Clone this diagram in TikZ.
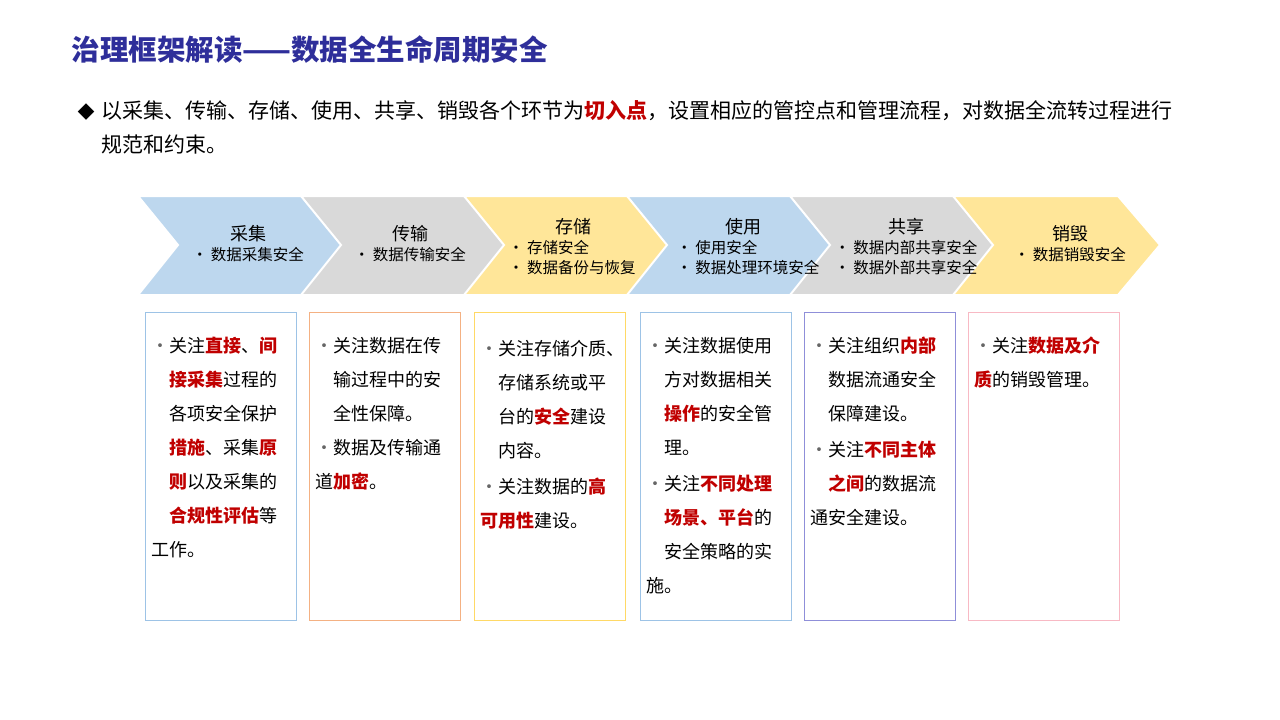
\documentclass[tikz,border=0pt]{standalone}
\usepackage{fontspec}
\setmainfont{Noto Sans CJK SC}
\usetikzlibrary{positioning}
\definecolor{ttlblue}{HTML}{2E2E9A}
\definecolor{keyred}{HTML}{C00000}
\definecolor{chblue}{HTML}{BDD7EE}
\definecolor{chgray}{HTML}{D9D9D9}
\definecolor{chyel}{HTML}{FFE699}
\definecolor{bxblue}{HTML}{9DC3E6}
\definecolor{bxorange}{HTML}{F4B183}
\definecolor{bxgold}{HTML}{FFD966}
\definecolor{bxpurple}{HTML}{8F8FD9}
\definecolor{bxpink}{HTML}{F8B9C4}
\newcommand\kw[1]{\textcolor{keyred}{\bfseries #1}}
\newcommand\bul{\par\leftskip=1em\noindent\llap{\makebox[1em][l]{\textcolor{gray!80!black}{•}}}}
\tikzset{
  chtitle/.style={font=\fontsize{18}{20}\selectfont, anchor=center},
  chlist/.style={font=\fontsize{15.5}{20}\selectfont, align=left, anchor=north},
  infobox/.style={draw, line width=1.2pt, minimum width=151pt, minimum height=308pt, anchor=north west},
  infotext/.style={anchor=north west, text width=145pt, align=left,
    font=\fontsize{18}{34}\selectfont}
}
\begin{document}
\begin{tikzpicture}[x=1pt,y=-1pt]
\useasboundingbox (0,0) rectangle (1280,720);
% title
\node[anchor=west, font=\fontsize{28.5}{32}\selectfont\bfseries, text=ttlblue] (title) at (68,50) {治理框架解读——数据全生命周期安全};
\node[anchor=west, font=\fontsize{17}{20}\selectfont] (dia) at (74,112) {◆};
\node[anchor=north west, text width=1150pt, align=left, font=\fontsize{21}{34}\selectfont] (intro) at (98,97)
  {以采集、传输、存储、使用、共享、销毁各个环节为\kw{切入点}，设置相应的管控点和管理流程，对数据全流转过程进行\\规范和约束。};
% chevrons
\foreach \i/\c in {0/chblue,1/chgray,2/chyel,3/chblue,4/chgray,5/chyel}{
  \pgfmathsetmacro\xa{138+163*\i}
  \fill[\c, draw=white, line width=2pt] (\xa,196) -- (\xa+165,196) -- (\xa+207,245) -- (\xa+165,295)
    -- (\xa,295) -- (\xa+40,245) -- cycle;
}
\node[chtitle] (t1) at (248,234) {采集};
\node[chlist] (l1) at (248,244) {• 数据采集安全};
\node[chtitle] (t2) at (410,234) {传输};
\node[chlist] (l2) at (410,244) {• 数据传输安全};
\node[chtitle] (t3) at (573,227) {存储};
\node[chlist] (l3) at (572,237) {• 存储安全\\• 数据备份与恢复};
\node[chtitle] (t4) at (743,227) {使用};
\node[chlist] (l4) at (748,237) {• 使用安全\\• 数据处理环境安全};
\node[chtitle] (t5) at (906,227) {共享};
\node[chlist] (l5) at (906,237) {• 数据内部共享安全\\• 数据外部共享安全};
\node[chtitle] (t6) at (1070,234) {销毁};
\node[chlist] (l6) at (1070,244) {• 数据销毁安全};
% boxes
\node[infobox, draw=bxblue] (b1) at (145,312) {};
\node[infobox, draw=bxorange] (b2) at (309,312) {};
\node[infobox, draw=bxgold] (b3) at (474,312) {};
\node[infobox, draw=bxblue] (b4) at (640,312) {};
\node[infobox, draw=bxpurple] (b5) at (804,312) {};
\node[infobox, draw=bxpink] (b6) at (968,312) {};
\node[infotext] (x1) at (148,315) {\bul 关注\kw{直接}、\kw{间}\\\kw{接采集}过程的\\各项安全保护\\\kw{措施}、采集\kw{原}\\\kw{则}以及采集的\\\kw{合规性评估}等\\工作。};
\node[infotext] (x2) at (312,315) {\bul 关注数据在传\\输过程中的安\\全性保障。\bul 数据及传输通\\道\kw{加密}。};
\node[infotext] (x3) at (477,318) {\bul 关注存储介质、\\存储系统或平\\台的\kw{安全}建设\\内容。\par\vspace{2pt}\bul 关注数据的\kw{高}\\\kw{可用性}建设。};
\node[infotext] (x4) at (643,315) {\bul 关注数据使用\\方对数据相关\\\kw{操作}的安全管\\理。\par\vspace{2pt}\bul 关注\kw{不同处理}\\\kw{场景、平台}的\\安全策略的实\\施。};
\node[infotext] (x5) at (807,315) {\bul 关注组织\kw{内部}\\数据流通安全\\保障建设。\par\vspace{2pt}\bul 关注\kw{不同主体}\\\kw{之间}的数据流\\通安全建设。};
\node[infotext] (x6) at (971,315) {\bul 关注\kw{数据及介}\\\kw{质}的销毁管理。};
\end{tikzpicture}
\end{document}
